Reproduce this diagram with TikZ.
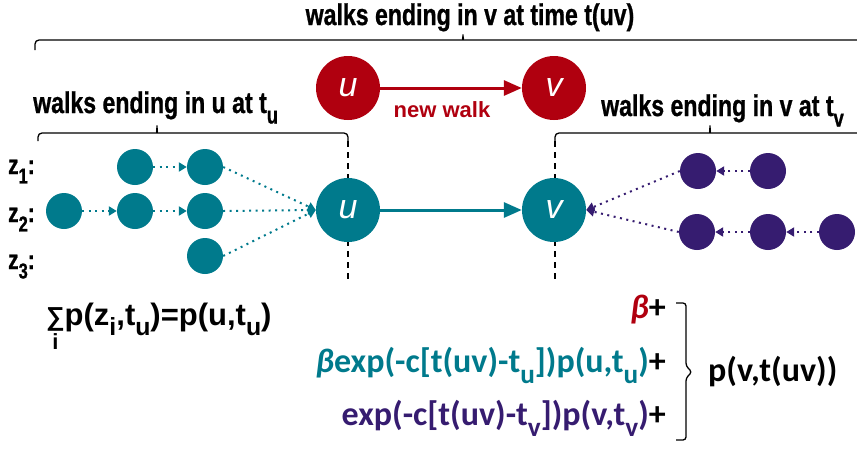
\documentclass[tikz,border=0pt]{standalone}
\usepackage{fontspec}
\setmainfont{Liberation Sans}
\newfontfamily\narrowsf[FakeStretch=0.77,FakeBold=0.8]{Liberation Sans}
\newfontfamily\calsf{Carlito}
\usetikzlibrary{arrows.meta}
\definecolor{walkred}{HTML}{B0000F}
\definecolor{walkteal}{HTML}{007A8C}
\definecolor{walkpurple}{HTML}{361C70}
\newcommand{\lowsub}[1]{\raisebox{-0.35em}{\scalebox{0.8}{#1}}}
\tikzset{
  walkDot/.style={circle, inner sep=0pt, minimum size=36pt},
  tealDot/.style={walkDot, fill=walkteal},
  purpleDot/.style={walkDot, fill=walkpurple},
  endNode/.style={circle, inner sep=0pt, minimum size=64pt, text=white, font=\fontsize{34}{34}\selectfont\itshape},
  dotArrow/.style={-{Triangle[length=8pt,width=9pt]}, line width=2pt, dash pattern=on 2pt off 4.5pt},
  solidArrow/.style={-{Triangle[length=18pt,width=15pt]}, line width=3pt},
  bracket/.style={line width=1.3pt, rounded corners=4pt},
  cutLine/.style={line width=1.5pt, dash pattern=on 6pt off 5pt},
  walkLabel/.style={inner sep=0pt, font=\narrowsf\bfseries\fontsize{30}{32}\selectfont},
  zLabel/.style={inner sep=0pt, anchor=base west, font=\narrowsf\bfseries\fontsize{27}{28}\selectfont},
  formula/.style={inner sep=0pt, font=\calsf\bfseries\fontsize{34}{36}\selectfont}
}

\begin{document}
\begin{tikzpicture}[x=1pt,y=-1pt]
  \useasboundingbox (0,0) rectangle (857,448);

  % braces and cut lines
  \node[walkLabel, anchor=base] (title) at (470,25) {walks ending in v at time t(uv)};
  \draw[bracket] (35,50) |- (459,40) .. controls (462,40) and (463,37) .. (463,32)
    .. controls (463,37) and (464,40) .. (467,40) -| (893,50);
  \node[walkLabel, anchor=base west] (ulabel) at (33,113) {walks ending in u at t\lowsub{u}};
  \draw[bracket] (38,141) |- (153,133) .. controls (156,133) and (157,130) .. (157,123)
    .. controls (157,130) and (158,133) .. (161,133) -| (348,141);
  \node[walkLabel, anchor=base west] (vlabel) at (601,116) {walks ending in v at t\lowsub{v}};
  \draw[bracket] (555,141) |- (706,133) .. controls (709,133) and (710,130) .. (710,123)
    .. controls (710,130) and (711,133) .. (714,133) -| (893,141);
  \draw[cutLine] (348,141) -- (348,282);
  \draw[cutLine] (555,141) -- (555,282);

  % new walk
  \node[endNode, fill=walkred] (u0) at (348,88) {u};
  \node[endNode, fill=walkred] (v0) at (554,88) {v};
  \draw[solidArrow, walkred] (u0) -- (v0);
  \node[inner sep=0pt, anchor=base, text=walkred, font=\bfseries\fontsize{22}{24}\selectfont] (nw) at (442,117) {new walk};

  % walks into u
  \node[zLabel] (z1) at (8,174) {z\lowsub{1}:};
  \node[zLabel] (z2) at (8,222) {z\lowsub{2}:};
  \node[zLabel] (z3) at (8,269) {z\lowsub{3}:};
  \node[tealDot] (a2) at (64,211) {};
  \node[tealDot] (b1) at (135,167) {};
  \node[tealDot] (b2) at (135,211) {};
  \node[tealDot] (c1) at (205,167) {};
  \node[tealDot] (c2) at (205,211) {};
  \node[tealDot] (c3) at (205,256) {};
  \node[endNode, fill=walkteal] (u) at (348,210) {u};
  \node[endNode, fill=walkteal] (v) at (554,210) {v};
  \draw[dotArrow, walkteal] (a2) -- (b2);
  \draw[dotArrow, walkteal] (b2) -- (c2);
  \draw[dotArrow, walkteal] (b1) -- (c1);
  \foreach \n in {c1,c2,c3}
    \draw[dotArrow, walkteal] (\n.east) -- (u.west);
  \draw[solidArrow, walkteal] (u) -- (v);

  % walks into v
  \node[purpleDot] (p1) at (698,171) {};
  \node[purpleDot] (q1) at (768,171) {};
  \node[purpleDot] (p2) at (697,232) {};
  \node[purpleDot] (q2) at (768,232) {};
  \node[purpleDot] (r2) at (837,232) {};
  \draw[dotArrow, walkpurple] (q1) -- (p1);
  \draw[dotArrow, walkpurple] (r2) -- (q2);
  \draw[dotArrow, walkpurple] (q2) -- (p2);
  \draw[dotArrow, walkpurple] (p1.west) -- (v.east);
  \draw[dotArrow, walkpurple] (p2.west) -- (v.east);

  % formulas
  \node[inner sep=0pt, anchor=base west, font=\bfseries\fontsize{31}{33}\selectfont] (sum) at (46,325)
    {\rlap{\hspace{0.2em}\raisebox{-0.8em}{\fontsize{22}{22}\selectfont i}}{\fontsize{26}{26}\selectfont ∑}p(z\lowsub{i},t\lowsub{u})=p(u,t\lowsub{u})};
  \node[formula, anchor=base east] (f1) at (666,318) {\textcolor{walkred}{\itshape β}+};
  \node[formula, anchor=base east] (f2) at (666,372) {\textcolor{walkteal}{{\itshape β}exp(-c[t(uv)-t\lowsub{u}])p(u,t\lowsub{u})}+};
  \node[formula, anchor=base east] (f3) at (666,425) {\textcolor{walkpurple}{exp(-c[t(uv)-t\lowsub{v}])p(v,t\lowsub{v})}+};
  \draw[bracket, rounded corners=3pt] (676,303) -| (686,366) -- (692,372) -- (686,378) |- (676,440);
  \node[formula, anchor=base west] (pv) at (708,381) {p(v,t(uv))};
\end{tikzpicture}
\end{document}
